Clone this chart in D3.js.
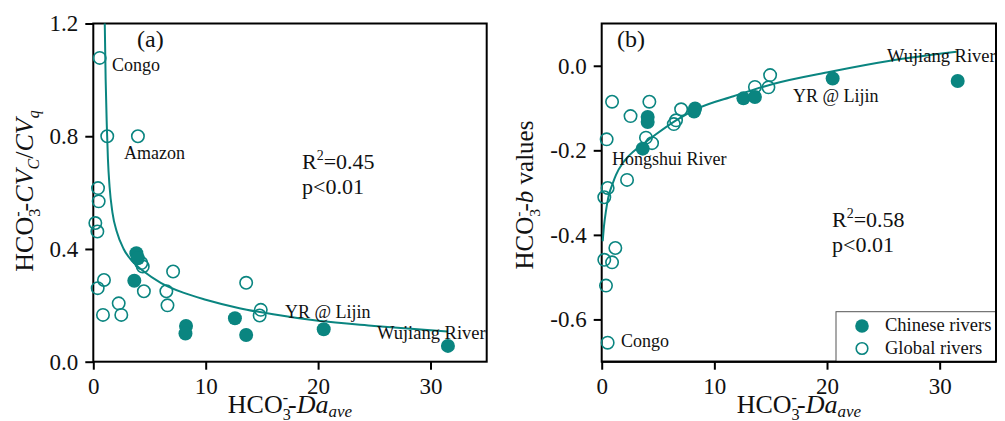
<!DOCTYPE html>
<html>
<head>
<meta charset="utf-8">
<script src="https://cdn.jsdelivr.net/npm/d3@7"></script>
<style>
  body { margin: 0; background: #fff; }
  svg text { font-family: "Liberation Serif", "Times New Roman", serif; }
  .tick text { font-size: 23px; fill: #111; }
  .tick line { stroke: #000; stroke-width: 2; }
</style>
</head>
<body>
<svg id="chart" width="1005" height="421"></svg>
<script>
const teal = "#0a8580";

// panel (a): HCO3- CVc/CVq vs Da
const aGlobalX = [0.57, 1.24, 3.97, 0.42, 0.48, 0.18, 0.36, 0.39, 0.95, 2.26, 0.86, 2.49, 4.27, 4.4, 4.5, 6.5, 6.6, 7.1, 13.6, 14.9, 14.8];
const aGlobalY = [1.078, 0.80, 0.80, 0.616, 0.569, 0.492, 0.462, 0.261, 0.29, 0.207, 0.166, 0.166, 0.35, 0.338, 0.25, 0.25, 0.20, 0.32, 0.28, 0.184, 0.164];
const aChinaX = [3.83, 3.97, 3.65, 8.25, 8.2, 12.6, 13.6, 20.5, 31.55];
const aChinaY = [0.385, 0.367, 0.287, 0.127, 0.10, 0.154, 0.095, 0.115, 0.056];
const aFitX = [1.02, 1.1, 1.2, 1.3, 1.45, 1.7, 2.1, 2.7, 3.5, 4.5, 6, 8, 10, 13, 16, 20, 25, 31.5];
const aFitY = [1.2, 1.0, 0.84, 0.72, 0.62, 0.53, 0.46, 0.40, 0.355, 0.32, 0.28, 0.245, 0.22, 0.19, 0.168, 0.145, 0.127, 0.107];

// panel (b): HCO3- b values vs Da
const bGlobalX = [0.92, 4.23, 2.56, 0.44, 3.93, 4.47, 6.6, 6.4, 7.05, 0.53, 0.23, 2.25, 1.21, 0.92, 0.23, 0.38, 0.53, 13.6, 14.95, 14.8];
const bGlobalY = [-0.085, -0.085, -0.119, -0.174, -0.170, -0.183, -0.129, -0.138, -0.103, -0.289, -0.311, -0.27, -0.431, -0.465, -0.459, -0.52, -0.655, -0.05, -0.022, -0.051];
const bChinaX = [4.08, 4.08, 3.64, 8.2, 8.29, 12.58, 13.6, 20.5, 31.6];
const bChinaY = [-0.121, -0.133, -0.196, -0.108, -0.101, -0.077, -0.074, -0.030, -0.036];
const bFitX = [0.09, 0.2, 0.38, 0.6, 0.98, 1.27, 1.87, 2.45, 3.64, 4.82, 6.6, 8.7, 11.7, 15.2, 20.3, 25.6, 31.5];
const bFitY = [-0.415, -0.38, -0.343, -0.31, -0.278, -0.258, -0.230, -0.212, -0.186, -0.162, -0.129, -0.099, -0.072, -0.043, -0.014, 0.012, 0.033];

const xTicks = [0, 10, 20, 30];
const aYTicks = [0, 0.4, 0.8, 1.2];
const bYTicks = [-0.6, -0.4, -0.2, 0.0];

const svg = d3.select("#chart");
svg.append("rect").attr("width", 1005).attr("height", 421).attr("fill", "#fff");

function zip(xs, ys) {
  return xs.map(function (x, i) { return [x, ys[i]]; });
}

// HCO3- prefix, "-" stacked over the subscript 3
function hcoLabel(text, size) {
  text.append("tspan").text("HCO");
  text.append("tspan").attr("font-size", size * 0.62).attr("dy", size * 0.28).text("3");
  text.append("tspan").attr("font-size", size * 0.62).attr("dx", -size * 0.31).attr("dy", -size * 0.68).text("-");
  text.append("tspan").attr("font-size", size).attr("dy", size * 0.4).text("-");
}

function drawPanel(opt) {
  const x = d3.scaleLinear().domain([0, 35]).range([opt.left, opt.right]);
  const y = d3.scaleLinear().domain(opt.yDomain).range([361.7, 23.5]);
  const g = svg.append("g");

  g.append("g")
    .attr("transform", "translate(0,361.7)")
    .call(d3.axisBottom(x).tickValues(xTicks).tickSize(8).tickSizeOuter(0).tickPadding(8).tickFormat(d3.format("d")))
    .call(function (s) { s.select(".domain").remove(); });

  g.append("g")
    .attr("transform", "translate(" + opt.left + ",0)")
    .call(d3.axisLeft(y).tickValues(opt.yTicks).tickSize(8).tickSizeOuter(0).tickPadding(7)
      .tickFormat(function (d) { return d.toFixed(1); }))
    .call(function (s) { s.select(".domain").remove(); });

  g.append("rect")
    .attr("x", opt.left).attr("y", 23.5)
    .attr("width", opt.right - opt.left).attr("height", 361.7 - 23.5)
    .attr("fill", "none").attr("stroke", "#000").attr("stroke-width", 2);

  const line = d3.line()
    .x(function (d) { return x(d[0]); })
    .y(function (d) { return y(d[1]); })
    .curve(d3.curveMonotoneX);

  g.append("path")
    .datum(zip(opt.fitX, opt.fitY))
    .attr("d", line)
    .attr("fill", "none").attr("stroke", teal).attr("stroke-width", 2);

  g.selectAll(".glob")
    .data(zip(opt.globX, opt.globY))
    .enter().append("circle")
    .attr("cx", function (d) { return x(d[0]); })
    .attr("cy", function (d) { return y(d[1]); })
    .attr("r", 6.2)
    .attr("fill", "none").attr("stroke", teal).attr("stroke-width", 1.6);

  g.selectAll(".chn")
    .data(zip(opt.chnX, opt.chnY))
    .enter().append("circle")
    .attr("cx", function (d) { return x(d[0]); })
    .attr("cy", function (d) { return y(d[1]); })
    .attr("r", 7)
    .attr("fill", teal);

  // x title
  const xt = g.append("text")
    .attr("x", (opt.left + opt.right) / 2).attr("y", 413)
    .attr("text-anchor", "middle").attr("font-size", 26).attr("fill", "#111");
  hcoLabel(xt, 26);
  xt.append("tspan").attr("font-style", "italic").text("Da");
  xt.append("tspan").attr("font-style", "italic").attr("font-size", 17).attr("dy", 4).text("ave");

  g.selectAll(".note")
    .data(opt.notes)
    .enter().append("text")
    .attr("x", function (d) { return d.x; })
    .attr("y", function (d) { return d.y; })
    .attr("font-size", function (d) { return d.size; })
    .attr("fill", "#111")
    .text(function (d) { return d.t; });

  const r2 = g.append("text").attr("x", opt.stat[0]).attr("y", opt.stat[1]).attr("font-size", 22).attr("fill", "#111");
  r2.append("tspan").text("R");
  r2.append("tspan").attr("font-size", 14).attr("dy", -9).text("2");
  r2.append("tspan").attr("dy", 9).text("=" + opt.r2);
  g.append("text").attr("x", opt.stat[0]).attr("y", opt.stat[1] + 25).attr("font-size", 22).attr("fill", "#111").text("p<0.01");

  return g;
}

drawPanel({
  left: 93.3, right: 486.7, yDomain: [0, 1.2], yTicks: aYTicks,
  globX: aGlobalX, globY: aGlobalY, chnX: aChinaX, chnY: aChinaY, fitX: aFitX, fitY: aFitY,
  r2: "0.45", stat: [302, 169],
  notes: [
    { t: "(a)", x: 137, y: 47, size: 24 },
    { t: "Congo", x: 112, y: 71, size: 18 },
    { t: "Amazon", x: 124, y: 159, size: 18 },
    { t: "YR @ Lijin", x: 285, y: 318, size: 18 },
    { t: "Wujiang River", x: 377, y: 339, size: 18.5 }
  ]
});

const gb = drawPanel({
  left: 601.7, right: 996, yDomain: [-0.7, 0.1], yTicks: bYTicks,
  globX: bGlobalX, globY: bGlobalY, chnX: bChinaX, chnY: bChinaY, fitX: bFitX, fitY: bFitY,
  r2: "0.58", stat: [832, 227],
  notes: [
    { t: "(b)", x: 617, y: 47, size: 24 },
    { t: "Hongshui River", x: 612, y: 165, size: 18 },
    { t: "Congo", x: 621, y: 347, size: 18 },
    { t: "YR @ Lijin", x: 793, y: 102, size: 18 },
    { t: "Wujiang River", x: 887, y: 62, size: 18.5 }
  ]
});

// y titles
const ya = svg.append("text")
  .attr("transform", "translate(33,191) rotate(-90)")
  .attr("text-anchor", "middle").attr("font-size", 26).attr("fill", "#111");
hcoLabel(ya, 26);
ya.append("tspan").attr("font-style", "italic").text("CV");
ya.append("tspan").attr("font-style", "italic").attr("font-size", 16).attr("dy", 6).text("C");
ya.append("tspan").attr("font-size", 26).attr("dy", -6).text("/");
ya.append("tspan").attr("font-style", "italic").text("CV");
ya.append("tspan").attr("font-style", "italic").attr("font-size", 16).attr("dy", 6).text("q");

const yb = svg.append("text")
  .attr("transform", "translate(533,195) rotate(-90)")
  .attr("text-anchor", "middle").attr("font-size", 25).attr("fill", "#111");
hcoLabel(yb, 25);
yb.append("tspan").attr("font-style", "italic").text("b");
yb.append("tspan").text(" values");

// legend
const leg = gb.append("g");
leg.append("rect").attr("x", 836).attr("y", 311.7).attr("width", 160).attr("height", 50)
  .attr("fill", "#fff").attr("stroke", "#555").attr("stroke-width", 1);
leg.append("circle").attr("cx", 862).attr("cy", 326).attr("r", 6.8).attr("fill", teal);
leg.append("circle").attr("cx", 862).attr("cy", 348.5).attr("r", 5.8).attr("fill", "none").attr("stroke", teal).attr("stroke-width", 1.6);
leg.append("text").attr("x", 885).attr("y", 331).attr("font-size", 18.5).attr("fill", "#111").text("Chinese rivers");
leg.append("text").attr("x", 885).attr("y", 353.5).attr("font-size", 18.5).attr("fill", "#111").text("Global rivers");
// redraw frame edges over legend
gb.append("line").attr("x1", 996).attr("x2", 996).attr("y1", 23.5).attr("y2", 361.7).attr("stroke", "#000").attr("stroke-width", 2);
gb.append("line").attr("x1", 601.7).attr("x2", 996).attr("y1", 361.7).attr("y2", 361.7).attr("stroke", "#000").attr("stroke-width", 2);
</script>
</body>
</html>
